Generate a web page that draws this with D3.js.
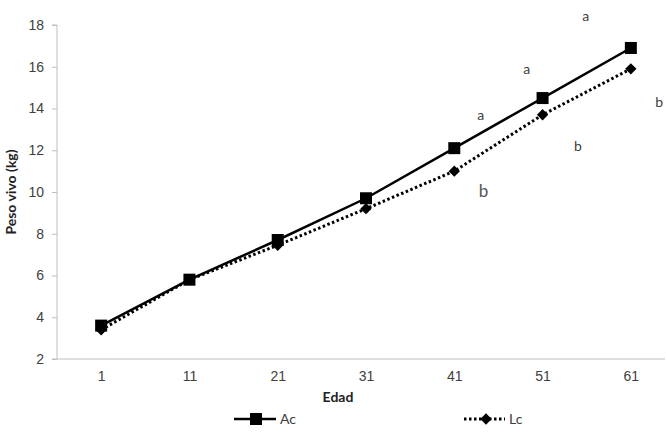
<!DOCTYPE html>
<html>
<head>
<meta charset="utf-8">
<script src="https://cdn.jsdelivr.net/npm/d3@7"></script>
<style>
  body { margin: 0; background: #fff; }
  svg { display: block; font-family: Lato, "Open Sans", sans-serif; }
</style>
</head>
<body>
<div id="chart"></div>
<script>
// datos: edad (dias) y peso vivo (kg)
const edad = [1, 11, 21, 31, 41, 51, 61];
const pesoAc = [3.6, 5.8, 7.7, 9.7, 12.1, 14.5, 16.9];
const pesoLc = [3.4, 5.8, 7.45, 9.2, 11.0, 13.7, 15.9];
const yTicks = [2, 4, 6, 8, 10, 12, 14, 16, 18];

// letras de significancia (posicion en unidades de edad / kg)
const letras = ['a', 'a', 'a', 'b', 'b', 'b'];
const letraEdad = [44.0, 49.2, 55.9, 44.3, 55.0, 64.2];
const letraPeso = [13.7, 15.9, 18.45, 10.05, 12.2, 14.3];

const width = 667, height = 440;
const margin = {top: 25, right: -8, bottom: 81, left: 57};

const svg = d3.select('#chart').append('svg')
  .attr('width', width)
  .attr('height', height);

// eje x tipo categoria: 7 bandas, se corta en el borde derecho
const scX = d3.scaleLinear()
  .domain([edad[0] - 5, edad[edad.length - 1] + 5])
  .range([margin.left, width - margin.right]);

const scY = d3.scaleLinear()
  .domain([2, 18])
  .range([height - margin.bottom, margin.top]);

const textCol = '#404040';
const axisCol = '#bfbfbf';

// eje y
svg.append('g')
  .attr('transform', `translate(${margin.left},0)`)
  .call(d3.axisLeft(scY).tickValues(yTicks).tickSize(5).tickPadding(8))
  .call(g => g.select('.domain').attr('stroke', axisCol).attr('d', `M-5,${scY(18)}H0V${scY(2)}`))
  .call(g => g.selectAll('.tick line').attr('stroke', axisCol))
  .call(g => g.selectAll('.tick text').attr('fill', textCol).style('font-size', '14px'));

// eje x
svg.append('g')
  .attr('transform', `translate(0,${scY(2)})`)
  .call(d3.axisBottom(scX).tickValues(edad).tickSize(0).tickPadding(12))
  .call(g => g.select('.domain').attr('stroke', axisCol).attr('d', `M${margin.left - 5},0H${width - 2}`))
  .call(g => g.selectAll('.tick text').attr('fill', textCol).style('font-size', '14px'));

// titulos de ejes
svg.append('text')
  .attr('x', 338).attr('y', 402)
  .attr('text-anchor', 'middle')
  .attr('font-weight', 'bold')
  .attr('font-size', 14)
  .attr('fill', '#222')
  .text('Edad');

svg.append('text')
  .attr('transform', `translate(16,${(scY(2) + scY(18)) / 2}) rotate(-90)`)
  .attr('text-anchor', 'middle')
  .attr('font-weight', 'bold')
  .attr('font-size', 14)
  .attr('fill', '#222')
  .text('Peso vivo (kg)');

const line = d3.line()
  .x((d, i) => scX(edad[i]))
  .y(d => scY(d));

// serie Lc (punteada, rombos)
svg.append('path')
  .datum(pesoLc)
  .attr('d', line)
  .attr('fill', 'none')
  .attr('stroke', '#000')
  .attr('stroke-width', 3)
  .attr('stroke-dasharray', '2.5,2.5');

svg.append('g').selectAll('path')
  .data(pesoLc)
  .join('path')
  .attr('transform', (d, i) => `translate(${scX(edad[i])},${scY(d)}) rotate(45)`)
  .attr('d', 'M-4,-4H4V4H-4Z')
  .attr('fill', '#000');

// serie Ac (continua, cuadrados)
svg.append('path')
  .datum(pesoAc)
  .attr('d', line)
  .attr('fill', 'none')
  .attr('stroke', '#000')
  .attr('stroke-width', 2.5);

svg.append('g').selectAll('rect')
  .data(pesoAc)
  .join('rect')
  .attr('x', (d, i) => scX(edad[i]) - 6)
  .attr('y', d => scY(d) - 6)
  .attr('width', 12)
  .attr('height', 12)
  .attr('fill', '#000');

// letras
svg.append('g').selectAll('text')
  .data(letras)
  .join('text')
  .attr('x', (d, i) => scX(letraEdad[i]))
  .attr('y', (d, i) => scY(letraPeso[i]))
  .attr('text-anchor', 'middle')
  .attr('dy', '0.35em')
  .attr('font-size', (d, i) => i === 3 ? 17 : 14)
  .attr('fill', (d, i) => i === 3 ? '#555' : textCol)
  .text(d => d);

// leyenda
const legY = 419;
const leg = svg.append('g');
leg.append('line').attr('x1', 234).attr('x2', 276).attr('y1', legY).attr('y2', legY)
  .attr('stroke', '#000').attr('stroke-width', 2.5);
leg.append('rect').attr('x', 250).attr('y', legY - 6).attr('width', 12).attr('height', 12).attr('fill', '#000');
leg.append('text').attr('x', 280).attr('y', legY).attr('dy', '0.35em')
  .attr('font-size', 14).attr('fill', textCol).text('Ac');

leg.append('line').attr('x1', 464).attr('x2', 505).attr('y1', legY).attr('y2', legY)
  .attr('stroke', '#000').attr('stroke-width', 3).attr('stroke-dasharray', '2.5,2.5');
leg.append('path').attr('transform', `translate(486,${legY}) rotate(45)`)
  .attr('d', 'M-4,-4H4V4H-4Z').attr('fill', '#000');
leg.append('text').attr('x', 509).attr('y', legY).attr('dy', '0.35em')
  .attr('font-size', 14).attr('fill', textCol).text('Lc');
</script>
</body>
</html>
